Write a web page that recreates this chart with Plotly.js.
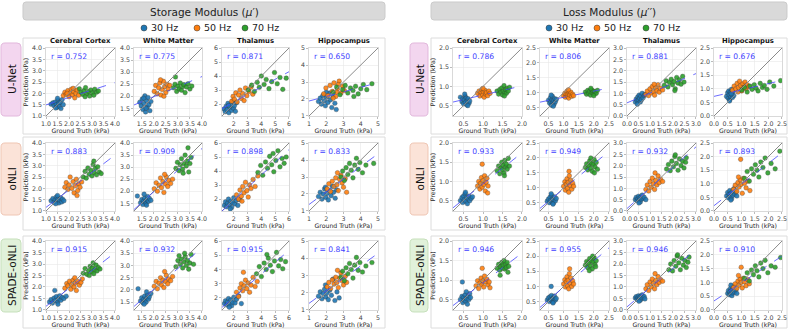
<!DOCTYPE html>
<html>
<head>
<meta charset="utf-8">
<script src="https://cdn.plot.ly/plotly-3.0.1.min.js"></script>
<style>
  html, body { margin: 0; padding: 0; background: #fff; }
  #chart { width: 793px; height: 330px; }
</style>
</head>
<body>
<div id="chart"></div>
<script>
// categories and labels
const regions = ["Cerebral Cortex", "White Matter", "Thalamus", "Hippocampus"];
const models = ["U-Net", "oNLI", "SPADE-oNLI"];
const freqs = ["30 Hz", "50 Hz", "70 Hz"];
const freqColors = ["#1f77b4", "#ff7f0e", "#2ca02c"];

// correlation coefficients printed in each panel (rows = models, cols = regions)
const rStorage = [["0.752", "0.775", "0.871", "0.650"], ["0.883", "0.909", "0.898", "0.833"], ["0.915", "0.932", "0.915", "0.841"]];
const rLoss = [["0.786", "0.806", "0.881", "0.676"], ["0.933", "0.949", "0.932", "0.893"], ["0.946", "0.955", "0.946", "0.910"]];

// axis ranges / tick steps per region
const storageRanges = [[0.999, 4.001], [1.18, 4.001], [1.15, 6.001], [0.999, 5.001]];
const storageDtick = [0.5, 0.5, 1, 1];
const lossRanges = [[0.23, 2.001], [0.22, 2.501], [-0.001, 3.001], [-0.001, 2.501]];
const lossDtick = [0.5, 0.5, 0.5, 0.5];

// ---- Storage modulus, U-Net : [ground truth, prediction] in kPa
const SU_CC_30 = [[1.22,1.52],[1.30,1.58],[1.35,1.45],[1.40,1.62],[1.45,1.50],[1.48,1.38],[1.52,1.68],[1.55,1.55],[1.58,1.42],[1.62,1.60],[1.65,1.33],[1.70,1.72],[1.75,1.50],[1.50,1.78],[1.42,1.35]];
const SU_CC_50 = [[1.75,1.90],[1.82,2.05],[1.88,1.95],[1.95,2.12],[2.00,1.85],[2.05,2.02],[2.10,2.18],[2.15,1.93],[2.20,2.08],[2.25,1.80],[2.30,2.00],[2.35,2.15],[2.42,1.92],[1.92,2.00],[2.18,2.22]];
const SU_CC_70 = [[2.45,2.20],[2.52,2.05],[2.60,1.95],[2.65,2.12],[2.72,2.25],[2.78,1.98],[2.85,2.08],[2.90,1.88],[2.95,2.15],[3.02,2.02],[3.08,1.92],[3.12,2.18],[3.20,2.05],[3.28,2.10],[2.70,1.85]];
const SU_WM_30 = [[1.42,1.75],[1.48,1.60],[1.52,1.88],[1.55,1.45],[1.60,1.70],[1.63,2.02],[1.66,1.35],[1.70,1.82],[1.73,1.55],[1.76,1.95],[1.80,1.65],[1.84,1.40],[1.88,1.78],[1.58,1.92],[1.68,1.50]];
const SU_WM_50 = [[2.02,2.20],[2.08,2.45],[2.14,2.10],[2.20,2.35],[2.25,2.55],[2.30,2.05],[2.35,2.28],[2.40,2.62],[2.45,2.40],[2.50,2.15],[2.55,2.50],[2.60,2.30],[2.66,2.45],[2.28,2.68],[2.42,2.00]];
const SU_WM_70 = [[2.82,2.35],[2.88,2.50],[2.95,2.20],[3.00,2.42],[3.05,2.30],[3.10,2.55],[3.15,2.25],[3.20,2.40],[3.25,2.48],[3.30,2.15],[3.36,2.38],[3.42,2.52],[3.50,2.30],[3.58,2.42],[2.90,2.80]];
const SU_TH_30 = [[1.30,1.65],[1.38,1.45],[1.45,1.85],[1.52,1.60],[1.58,2.05],[1.65,1.38],[1.72,1.75],[1.78,1.95],[1.85,1.55],[1.92,2.20],[1.98,1.70],[2.05,1.88],[2.12,1.48],[2.20,2.10],[1.62,1.90]];
const SU_TH_50 = [[1.85,2.20],[1.95,2.55],[2.05,2.35],[2.15,2.80],[2.25,2.15],[2.35,2.65],[2.45,3.00],[2.55,2.40],[2.65,2.75],[2.75,2.25],[2.85,3.15],[2.95,2.60],[3.10,2.90],[3.25,3.20],[3.38,2.70]];
const SU_TH_70 = [[3.05,3.00],[3.30,3.35],[3.50,2.90],[3.70,3.55],[3.85,3.20],[4.00,4.00],[4.20,3.40],[4.35,3.75],[4.55,3.10],[4.75,3.60],[4.95,4.25],[5.15,3.45],[5.35,3.90],[5.55,3.05],[5.80,3.85]];
const SU_HC_30 = [[1.55,1.85],[1.65,2.05],[1.72,1.70],[1.80,2.20],[1.88,1.90],[1.95,1.60],[2.02,2.10],[2.10,1.80],[2.18,2.35],[2.25,1.95],[2.32,1.50],[2.40,2.15],[2.50,1.75],[2.58,1.38],[2.00,2.40]];
const SU_HC_50 = [[1.85,2.30],[1.98,2.65],[2.10,2.20],[2.22,2.80],[2.35,2.45],[2.45,2.95],[2.55,2.15],[2.65,2.60],[2.75,3.05],[2.85,2.35],[2.95,2.75],[3.05,2.50],[2.40,2.05],[2.70,2.85],[2.60,2.40]];
const SU_HC_70 = [[2.40,2.40],[2.60,2.70],[2.80,2.25],[2.95,2.55],[3.10,2.80],[3.25,2.35],[3.40,2.65],[3.55,2.50],[3.70,2.75],[3.85,2.30],[4.00,2.60],[4.15,2.85],[4.35,2.55],[4.65,2.90],[3.60,2.15]];

// ---- Storage modulus, oNLI
const SO_CC_30 = [[1.22,1.45],[1.30,1.55],[1.35,1.38],[1.40,1.50],[1.45,1.62],[1.48,1.42],[1.52,1.52],[1.56,1.35],[1.60,1.48],[1.64,1.58],[1.68,1.40],[1.72,1.52],[1.78,1.45],[1.50,1.68],[1.42,1.32]];
const SO_CC_50 = [[1.82,2.05],[1.88,2.25],[1.95,1.95],[2.00,2.15],[2.05,2.50],[2.12,2.00],[2.18,2.30],[2.22,1.80],[2.28,2.12],[2.32,2.40],[2.38,1.90],[2.42,2.20],[2.48,2.05],[2.55,2.28],[2.35,1.68]];
const SO_CC_70 = [[2.62,2.50],[2.70,2.75],[2.75,2.45],[2.82,2.90],[2.88,2.62],[2.95,2.80],[3.00,2.55],[3.05,3.05],[3.10,2.70],[3.15,2.88],[3.20,2.60],[3.25,2.95],[3.32,2.72],[3.40,2.65],[3.08,3.20]];
const SO_WM_30 = [[1.32,1.80],[1.45,1.52],[1.50,1.65],[1.55,1.45],[1.58,1.60],[1.62,1.72],[1.65,1.55],[1.68,1.48],[1.72,1.65],[1.75,1.78],[1.78,1.58],[1.82,1.70],[1.88,1.62],[1.60,1.88],[1.70,1.42]];
const SO_WM_50 = [[2.02,2.10],[2.10,2.35],[2.15,2.00],[2.22,2.25],[2.28,2.55],[2.32,2.15],[2.38,2.40],[2.42,1.95],[2.48,2.30],[2.52,2.60],[2.58,2.20],[2.62,2.45],[2.70,2.32],[2.78,2.50],[2.45,2.70]];
const SO_WM_70 = [[2.92,2.95],[2.98,3.20],[3.05,2.85],[3.10,3.10],[3.15,3.35],[3.20,2.92],[3.25,3.15],[3.30,3.50],[3.35,3.05],[3.40,3.25],[3.45,2.80],[3.50,3.15],[3.55,3.40],[3.42,3.80],[3.22,2.75]];
const SO_TH_30 = [[1.32,1.55],[1.40,1.80],[1.48,1.45],[1.55,1.70],[1.62,2.00],[1.70,1.60],[1.78,1.85],[1.85,1.40],[1.92,1.75],[2.00,2.10],[2.08,1.65],[2.18,1.90],[2.30,1.55],[2.45,1.95],[1.75,1.30]];
const SO_TH_50 = [[2.20,2.30],[2.35,2.00],[2.45,2.65],[2.55,2.20],[2.65,2.90],[2.75,2.45],[2.85,3.20],[2.95,2.60],[3.05,2.15],[3.15,3.00],[3.25,2.75],[3.40,3.40],[3.55,2.90],[3.75,3.65],[2.60,1.85]];
const SO_TH_70 = [[3.75,3.90],[3.95,4.40],[4.10,3.70],[4.30,4.65],[4.45,4.20],[4.60,5.05],[4.75,4.45],[4.90,3.95],[5.05,4.75],[5.20,5.45],[5.35,4.30],[5.50,4.90],[5.65,4.55],[5.80,5.00],[4.85,5.25]];
const SO_HC_30 = [[1.55,1.85],[1.65,2.10],[1.75,1.70],[1.82,2.00],[1.90,2.30],[1.98,1.80],[2.05,2.05],[2.12,1.65],[2.20,2.20],[2.28,1.90],[2.35,2.45],[2.42,2.10],[2.52,1.75],[2.60,2.25],[1.95,2.40]];
const SO_HC_50 = [[2.05,2.30],[2.15,2.60],[2.25,2.15],[2.35,2.75],[2.45,2.45],[2.55,2.95],[2.62,2.55],[2.70,2.20],[2.78,2.85],[2.85,3.10],[2.92,2.65],[3.00,2.40],[3.10,2.90],[3.18,2.10],[2.65,3.25]];
const SO_HC_70 = [[2.85,3.00],[2.95,3.35],[3.05,2.80],[3.15,3.55],[3.25,3.15],[3.35,3.80],[3.45,3.40],[3.55,2.95],[3.65,3.70],[3.75,4.10],[3.85,3.45],[3.95,3.85],[4.10,3.25],[4.30,3.70],[4.75,3.80]];

// ---- Storage modulus, SPADE-oNLI
const SP_CC_30 = [[1.15,1.35],[1.22,1.45],[1.28,1.30],[1.35,1.52],[1.40,1.40],[1.45,1.58],[1.50,1.35],[1.55,1.48],[1.60,1.62],[1.65,1.42],[1.70,1.55],[1.78,1.50],[1.88,1.60],[1.38,1.85],[1.52,1.25]];
const SP_CC_50 = [[1.82,1.95],[1.90,2.15],[1.95,2.05],[2.02,2.25],[2.08,1.90],[2.12,2.10],[2.18,2.30],[2.22,2.00],[2.28,2.18],[2.32,1.85],[2.38,2.25],[2.45,2.08],[2.52,2.20],[2.58,2.35],[2.25,2.40]];
const SP_CC_70 = [[2.62,2.60],[2.70,2.80],[2.78,2.55],[2.85,2.72],[2.92,2.90],[2.98,2.65],[3.02,2.82],[3.08,2.58],[3.12,2.75],[3.18,2.95],[3.22,2.70],[3.28,2.85],[3.35,2.78],[3.05,3.05],[2.88,2.50]];
const SP_WM_30 = [[1.35,2.05],[1.45,1.55],[1.50,1.68],[1.55,1.48],[1.58,1.62],[1.62,1.75],[1.65,1.58],[1.68,1.50],[1.72,1.68],[1.75,1.80],[1.78,1.62],[1.82,1.72],[1.88,1.85],[1.60,1.42],[1.70,1.92]];
const SP_WM_50 = [[2.02,2.15],[2.10,2.35],[2.15,2.05],[2.22,2.28],[2.28,2.50],[2.32,2.20],[2.38,2.40],[2.42,2.10],[2.48,2.35],[2.52,2.60],[2.58,2.25],[2.62,2.45],[2.70,2.38],[2.78,2.55],[2.45,2.75]];
const SP_WM_70 = [[2.92,2.95],[3.00,3.20],[3.05,3.40],[3.10,3.05],[3.15,3.25],[3.20,2.90],[3.25,3.15],[3.30,3.35],[3.35,3.00],[3.40,3.20],[3.45,2.85],[3.50,3.10],[3.55,3.45],[3.65,3.05],[3.28,3.50]];
const SP_TH_30 = [[1.32,1.60],[1.40,1.80],[1.48,1.50],[1.55,1.72],[1.62,1.95],[1.70,1.55],[1.78,1.85],[1.85,1.45],[1.92,1.70],[2.00,2.05],[2.10,1.65],[2.20,1.90],[2.35,2.15],[2.55,1.60],[1.68,1.35]];
const SP_TH_50 = [[2.20,2.40],[2.35,2.10],[2.45,2.70],[2.55,3.00],[2.65,2.50],[2.75,2.85],[2.85,3.25],[2.95,2.65],[3.05,3.05],[3.15,2.40],[3.25,2.90],[3.40,3.45],[3.55,2.80],[3.70,3.15],[2.70,3.80]];
const SP_TH_70 = [[3.65,3.70],[3.85,4.20],[4.00,3.50],[4.20,4.45],[4.35,4.00],[4.50,4.80],[4.65,4.30],[4.80,3.85],[4.95,4.60],[5.10,5.20],[5.25,4.25],[5.40,4.70],[5.55,4.05],[5.75,4.55],[4.40,5.05]];
const SP_HC_30 = [[1.55,1.80],[1.65,2.05],[1.75,1.65],[1.82,1.95],[1.90,2.20],[1.98,1.75],[2.05,2.00],[2.12,1.60],[2.20,2.15],[2.30,1.85],[2.40,2.80],[2.50,1.55],[2.62,2.05],[2.75,1.70],[1.95,2.45]];
const SP_HC_50 = [[2.05,2.35],[2.15,2.60],[2.25,2.25],[2.35,2.75],[2.45,2.50],[2.55,2.90],[2.62,2.60],[2.70,2.30],[2.78,2.85],[2.85,3.15],[2.92,2.70],[3.00,2.45],[3.10,2.95],[3.18,2.60],[2.65,3.30]];
const SP_HC_70 = [[2.85,2.90],[2.95,3.25],[3.05,2.70],[3.15,3.45],[3.25,3.10],[3.35,3.70],[3.45,3.35],[3.55,2.85],[3.65,3.60],[3.75,4.05],[3.85,3.30],[3.95,3.75],[4.10,3.20],[4.30,3.55],[4.65,3.75]];

// ---- Loss modulus, U-Net
const LU_CC_30 = [[0.42,0.72],[0.46,0.60],[0.48,0.68],[0.50,0.55],[0.52,0.65],[0.54,0.75],[0.55,0.58],[0.57,0.70],[0.58,0.52],[0.60,0.63],[0.62,0.68],[0.64,0.56],[0.66,0.62],[0.53,0.80],[0.61,0.50]];
const LU_CC_50 = [[0.86,0.82],[0.90,0.88],[0.92,0.75],[0.95,0.85],[0.97,0.92],[0.99,0.78],[1.01,0.86],[1.03,0.72],[1.05,0.90],[1.07,0.80],[1.09,0.84],[1.12,0.76],[1.15,0.88],[1.18,0.82],[1.00,0.95]];
const LU_CC_70 = [[1.36,0.88],[1.40,0.80],[1.43,0.92],[1.46,0.85],[1.48,0.96],[1.50,0.78],[1.52,0.88],[1.54,1.02],[1.56,0.84],[1.58,0.92],[1.60,0.82],[1.62,0.95],[1.65,0.88],[1.68,0.98],[1.55,0.75]];
const LU_WM_30 = [[0.50,0.75],[0.54,0.65],[0.56,0.82],[0.58,0.70],[0.60,0.58],[0.62,0.76],[0.63,0.88],[0.65,0.68],[0.67,0.74],[0.69,0.62],[0.71,0.80],[0.73,0.70],[0.76,0.78],[0.59,0.92],[0.66,0.55]];
const LU_WM_50 = [[1.00,0.90],[1.04,0.98],[1.06,0.85],[1.09,0.95],[1.11,1.05],[1.13,0.88],[1.15,0.96],[1.17,0.82],[1.19,1.00],[1.21,0.92],[1.24,1.02],[1.27,0.88],[1.30,0.95],[1.33,0.90],[1.16,1.10]];
const LU_WM_70 = [[1.72,1.02],[1.76,0.95],[1.80,1.08],[1.83,0.98],[1.86,1.05],[1.89,0.92],[1.92,1.10],[1.95,1.00],[1.98,1.06],[2.01,0.96],[2.04,1.04],[2.08,0.98],[2.12,1.08],[1.90,1.15],[2.00,0.90]];
const LU_TH_30 = [[0.36,0.62],[0.40,0.75],[0.44,0.68],[0.47,0.85],[0.50,0.70],[0.53,0.92],[0.55,0.78],[0.58,0.62],[0.60,0.88],[0.63,0.72],[0.66,1.00],[0.70,0.80],[0.75,0.90],[0.45,0.52],[0.78,0.95]];
const LU_TH_50 = [[0.82,0.95],[0.88,1.10],[0.94,0.90],[1.00,1.20],[1.05,1.02],[1.10,1.30],[1.15,1.08],[1.20,0.92],[1.25,1.25],[1.30,1.12],[1.35,1.38],[1.40,1.05],[1.46,1.22],[1.55,1.15],[1.18,1.40]];
const LU_TH_70 = [[1.62,1.35],[1.70,1.55],[1.78,1.28],[1.85,1.48],[1.92,1.62],[1.98,1.38],[2.05,1.52],[2.10,1.20],[2.16,1.70],[2.22,1.45],[2.28,1.60],[2.35,1.40],[2.42,1.75],[2.48,1.50],[2.08,1.12]];
const LU_HC_30 = [[0.46,0.72],[0.50,0.85],[0.52,0.65],[0.54,0.92],[0.56,0.78],[0.58,0.60],[0.60,0.88],[0.62,0.70],[0.64,0.98],[0.66,0.80],[0.68,0.68],[0.70,0.90],[0.73,0.75],[0.57,0.55],[0.63,0.82]];
const LU_HC_50 = [[0.68,0.95],[0.74,1.10],[0.80,1.00],[0.85,1.20],[0.90,1.05],[0.94,1.28],[0.98,1.12],[1.02,0.92],[1.06,1.18],[1.10,1.05],[1.14,1.25],[1.18,1.00],[1.22,1.15],[1.28,1.08],[0.88,0.88]];
const LU_HC_70 = [[1.02,0.95],[1.12,1.05],[1.22,0.88],[1.32,1.10],[1.40,0.98],[1.48,1.15],[1.55,1.02],[1.62,0.92],[1.70,1.20],[1.78,1.05],[1.85,1.12],[1.95,0.98],[2.05,1.25],[2.20,1.10],[2.45,1.30]];

// ---- Loss modulus, oNLI
const LO_CC_30 = [[0.42,0.50],[0.46,0.58],[0.48,0.45],[0.50,0.62],[0.52,0.52],[0.54,0.68],[0.56,0.48],[0.58,0.58],[0.60,0.42],[0.62,0.55],[0.64,0.62],[0.66,0.50],[0.70,0.56],[0.55,0.72],[0.73,0.60]];
const LO_CC_50 = [[0.86,0.88],[0.89,1.00],[0.92,0.80],[0.94,0.95],[0.96,1.10],[0.98,0.85],[1.00,1.02],[1.02,0.92],[1.04,1.15],[1.06,0.75],[1.08,0.98],[1.10,1.08],[1.13,0.88],[0.98,1.45],[1.12,0.70]];
const LO_CC_70 = [[1.36,1.28],[1.40,1.40],[1.43,1.20],[1.46,1.35],[1.48,1.50],[1.50,1.30],[1.52,1.42],[1.54,1.22],[1.56,1.55],[1.58,1.38],[1.60,1.45],[1.62,1.32],[1.65,1.60],[1.68,1.40],[1.55,1.15]];
const LO_WM_30 = [[0.46,0.55],[0.50,0.62],[0.53,0.50],[0.55,0.68],[0.58,0.58],[0.60,0.75],[0.62,0.52],[0.64,0.62],[0.66,0.48],[0.68,0.60],[0.70,0.70],[0.73,0.56],[0.76,0.64],[0.59,0.80],[0.65,0.45]];
const LO_WM_50 = [[1.00,1.05],[1.04,1.20],[1.06,0.92],[1.09,1.12],[1.11,1.30],[1.13,0.98],[1.15,1.18],[1.17,0.85],[1.19,1.40],[1.21,1.08],[1.24,1.25],[1.27,0.95],[1.30,1.15],[1.18,1.55],[1.33,1.05]];
const LO_WM_70 = [[1.72,1.68],[1.76,1.80],[1.80,1.60],[1.83,1.75],[1.86,1.90],[1.89,1.65],[1.92,1.82],[1.95,1.55],[1.98,1.78],[2.01,1.95],[2.04,1.70],[2.08,1.85],[2.12,1.62],[1.90,2.00],[2.02,1.50]];
const LO_TH_30 = [[0.36,0.50],[0.40,0.60],[0.44,0.45],[0.47,0.55],[0.50,0.65],[0.53,0.48],[0.55,0.58],[0.58,0.40],[0.60,0.62],[0.63,0.52],[0.66,0.70],[0.70,0.55],[0.75,0.60],[0.82,0.50],[0.52,0.35]];
const LO_TH_50 = [[0.82,0.95],[0.88,1.15],[0.94,0.88],[1.00,1.30],[1.05,1.05],[1.10,1.45],[1.15,1.20],[1.20,0.95],[1.25,1.35],[1.30,1.15],[1.35,1.55],[1.40,1.25],[1.46,1.40],[1.55,1.30],[1.22,1.68]];
const LO_TH_70 = [[1.72,1.85],[1.80,2.05],[1.88,1.78],[1.95,2.20],[2.02,1.95],[2.08,2.40],[2.15,2.10],[2.22,1.80],[2.28,2.30],[2.35,2.00],[2.42,2.20],[2.48,1.90],[2.55,2.15],[2.10,2.48],[2.58,2.35]];
const LO_HC_30 = [[0.46,0.55],[0.50,0.68],[0.53,0.48],[0.56,0.62],[0.58,0.75],[0.60,0.52],[0.63,0.65],[0.65,0.45],[0.68,0.72],[0.70,0.58],[0.73,0.82],[0.76,0.62],[0.80,0.70],[0.84,0.55],[0.62,0.40]];
const LO_HC_50 = [[0.72,0.80],[0.78,0.95],[0.84,0.72],[0.88,1.05],[0.92,0.88],[0.96,1.15],[1.00,0.98],[1.04,0.65],[1.08,1.20],[1.12,1.02],[1.18,0.85],[1.24,1.10],[1.32,0.75],[0.98,1.90],[0.90,1.25]];
const LO_HC_70 = [[1.12,1.20],[1.22,1.45],[1.30,1.10],[1.38,1.55],[1.45,1.35],[1.52,1.70],[1.58,1.50],[1.65,1.25],[1.72,1.80],[1.80,1.60],[1.88,1.95],[1.98,1.40],[2.10,1.75],[2.25,1.55],[2.42,2.20]];

// ---- Loss modulus, SPADE-oNLI
const LP_CC_30 = [[0.42,0.50],[0.46,0.58],[0.48,0.42],[0.50,0.55],[0.52,0.48],[0.54,0.62],[0.56,0.45],[0.58,0.52],[0.60,0.38],[0.62,0.58],[0.64,0.50],[0.66,0.65],[0.68,0.55],[0.47,0.95],[0.57,0.70]];
const LP_CC_50 = [[0.82,0.85],[0.86,0.98],[0.89,0.78],[0.92,0.92],[0.95,1.05],[0.97,0.88],[1.00,0.98],[1.02,0.82],[1.04,1.10],[1.07,0.95],[1.10,1.02],[1.13,0.88],[1.16,0.95],[0.98,1.30],[1.18,0.80]];
const LP_CC_70 = [[1.36,1.30],[1.40,1.40],[1.43,1.25],[1.46,1.35],[1.48,1.45],[1.50,1.30],[1.52,1.38],[1.54,1.50],[1.56,1.28],[1.58,1.40],[1.60,1.32],[1.62,1.45],[1.66,1.35],[1.44,1.12],[1.64,1.20]];
const LP_WM_30 = [[0.46,0.55],[0.50,0.62],[0.53,0.50],[0.55,0.66],[0.58,0.56],[0.60,0.70],[0.62,0.52],[0.64,0.60],[0.66,0.48],[0.68,0.62],[0.70,0.68],[0.73,0.55],[0.76,0.60],[0.59,1.00],[0.65,0.45]];
const LP_WM_50 = [[1.00,1.08],[1.04,1.22],[1.06,0.98],[1.09,1.15],[1.11,1.32],[1.13,1.02],[1.15,1.20],[1.17,0.92],[1.19,1.42],[1.21,1.10],[1.24,1.28],[1.27,1.00],[1.30,1.18],[1.20,1.58],[1.33,1.08]];
const LP_WM_70 = [[1.72,1.70],[1.76,1.82],[1.80,1.62],[1.83,1.78],[1.86,1.92],[1.89,1.68],[1.92,1.85],[1.95,1.58],[1.98,1.80],[2.01,1.95],[2.04,1.72],[2.08,1.85],[1.85,1.52],[1.96,2.00],[2.06,1.65]];
const LP_TH_30 = [[0.36,0.52],[0.40,0.58],[0.44,0.46],[0.47,0.55],[0.50,0.62],[0.53,0.48],[0.55,0.56],[0.58,0.42],[0.60,0.60],[0.63,0.50],[0.66,0.66],[0.70,0.54],[0.75,0.58],[0.78,0.48],[0.52,0.38]];
const LP_TH_50 = [[0.82,0.92],[0.88,1.10],[0.94,0.85],[1.00,1.22],[1.05,1.00],[1.10,1.35],[1.15,1.15],[1.20,0.92],[1.25,1.28],[1.30,1.10],[1.35,1.45],[1.40,1.20],[1.46,1.32],[1.55,1.25],[1.22,1.58]];
const LP_TH_70 = [[1.82,1.75],[1.90,2.00],[1.98,1.70],[2.05,2.15],[2.12,1.90],[2.18,2.35],[2.25,2.05],[2.32,1.75],[2.38,2.25],[2.45,1.95],[2.52,2.15],[2.58,1.85],[2.65,2.08],[2.20,2.40],[2.70,2.30]];
const LP_HC_30 = [[0.50,0.60],[0.53,0.70],[0.56,0.55],[0.58,0.66],[0.60,0.78],[0.62,0.58],[0.64,0.70],[0.66,0.52],[0.68,0.75],[0.70,0.62],[0.73,0.85],[0.76,0.65],[0.80,0.72],[0.84,0.60],[0.62,0.90]];
const LP_HC_50 = [[0.72,0.82],[0.78,0.95],[0.84,0.78],[0.88,1.05],[0.92,0.90],[0.96,1.12],[1.00,1.00],[1.04,0.80],[1.08,1.15],[1.12,1.02],[1.18,0.88],[1.24,1.10],[1.30,0.95],[1.00,1.55],[0.90,1.25]];
const LP_HC_70 = [[1.12,1.15],[1.22,1.35],[1.30,1.05],[1.38,1.45],[1.45,1.28],[1.52,1.60],[1.58,1.42],[1.65,1.20],[1.72,1.70],[1.80,1.50],[1.88,1.80],[1.98,1.35],[2.10,1.60],[2.25,1.55],[2.45,1.90]];

const storageSets = [
    [[SU_CC_30, SU_CC_50, SU_CC_70], [SU_WM_30, SU_WM_50, SU_WM_70], [SU_TH_30, SU_TH_50, SU_TH_70], [SU_HC_30, SU_HC_50, SU_HC_70]],
    [[SO_CC_30, SO_CC_50, SO_CC_70], [SO_WM_30, SO_WM_50, SO_WM_70], [SO_TH_30, SO_TH_50, SO_TH_70], [SO_HC_30, SO_HC_50, SO_HC_70]],
    [[SP_CC_30, SP_CC_50, SP_CC_70], [SP_WM_30, SP_WM_50, SP_WM_70], [SP_TH_30, SP_TH_50, SP_TH_70], [SP_HC_30, SP_HC_50, SP_HC_70]],
];
const lossSets = [
    [[LU_CC_30, LU_CC_50, LU_CC_70], [LU_WM_30, LU_WM_50, LU_WM_70], [LU_TH_30, LU_TH_50, LU_TH_70], [LU_HC_30, LU_HC_50, LU_HC_70]],
    [[LO_CC_30, LO_CC_50, LO_CC_70], [LO_WM_30, LO_WM_50, LO_WM_70], [LO_TH_30, LO_TH_50, LO_TH_70], [LO_HC_30, LO_HC_50, LO_HC_70]],
    [[LP_CC_30, LP_CC_50, LP_CC_70], [LP_WM_30, LP_WM_50, LP_WM_70], [LP_TH_30, LP_TH_50, LP_TH_70], [LP_HC_30, LP_HC_50, LP_HC_70]],
];

// ---- page geometry (pixels)
const W = 793, H = 330;
const FONT = "DejaVu Sans";
const colsStorage = [[46, 115], [134, 202], [222, 289], [309, 378]];
const colsLoss = [[453, 522], [540, 609], [627, 696], [714, 782]];
const rowsPx = [[48, 116], [143, 211], [241, 310]];

const px = x => x / W;
const py = y => 1 - y / H;

function roundRect(x0, y0, x1, y1, r) {
    const p = (x, y) => px(x).toFixed(5) + "," + py(y).toFixed(5);
    return `M${p(x0 + r, y0)} L${p(x1 - r, y0)} Q${p(x1, y0)} ${p(x1, y0 + r)} L${p(x1, y1 - r)} Q${p(x1, y1)} ${p(x1 - r, y1)} L${p(x0 + r, y1)} Q${p(x0, y1)} ${p(x0, y1 - r)} L${p(x0, y0 + r)} Q${p(x0, y0)} ${p(x0 + r, y0)} Z`;
}

function fitLine(points) {
    const n = points.length;
    let sx = 0, sy = 0, sxx = 0, sxy = 0;
    points.forEach(([x, y]) => { sx += x; sy += y; sxx += x * x; sxy += x * y; });
    const slope = (n * sxy - sx * sy) / (n * sxx - sx * sx);
    return { slope, intercept: (sy - slope * sx) / n };
}

const data = [];
const layout = {
    width: W, height: H,
    margin: { l: 0, r: 0, t: 0, b: 0 },
    paper_bgcolor: "#ffffff",
    plot_bgcolor: "#ffffff",
    showlegend: false,
    font: { family: FONT, color: "#222" },
    shapes: [],
    annotations: [],
};

// background decorations: headers, row label boxes, row frames
const halves = [
    { title: "Storage Modulus (<i>μ</i>′)", x0: 23, x1: 385, labX: [1, 21], legendX: [144, 197, 245] },
    { title: "Loss Modulus (<i>μ</i>′′)", x0: 431, x1: 787, labX: [410, 428], legendX: [549, 597, 646] },
];
const frameY = [[38, 134], [137, 230], [236, 328]];
const labelY = [[43, 116], [143, 215], [239, 312]];
const labelFill = ["#f3d6ef", "#fbe3d8", "#e1f1da"];
const labelLine = ["#e2b8dc", "#efc6b4", "#c6e0bb"];

halves.forEach(h => {
    layout.shapes.push({ type: "path", xref: "paper", yref: "paper", path: roundRect(h.x0, 2, h.x1, 20, 3), fillcolor: "#d9d9d9", line: { color: "#cbcbcb", width: 1 }, layer: "below" });
    layout.annotations.push({ xref: "paper", yref: "paper", x: px((h.x0 + h.x1) / 2), y: py(11.5), text: h.title, showarrow: false, font: { size: 10.5, color: "#222" }, xanchor: "center", yanchor: "middle" });
    freqs.forEach((f, k) => {
        const cx = h.legendX[k];
        layout.shapes.push({ type: "circle", xref: "paper", yref: "paper", x0: px(cx - 3), x1: px(cx + 3), y0: py(31), y1: py(25), fillcolor: freqColors[k], line: { color: "#333", width: 0.5 } });
        layout.annotations.push({ xref: "paper", yref: "paper", x: px(cx + 5), y: py(28), text: f, showarrow: false, font: { size: 9.5, color: "#222" }, xanchor: "left", yanchor: "middle" });
    });
    frameY.forEach(([a, b]) => {
        layout.shapes.push({ type: "rect", xref: "paper", yref: "paper", x0: px(h.x0), x1: px(h.x1), y0: py(b), y1: py(a), line: { color: "#dcdcdc", width: 1 }, layer: "below" });
    });
    models.forEach((m, i) => {
        const [a, b] = labelY[i];
        layout.shapes.push({ type: "path", xref: "paper", yref: "paper", path: roundRect(h.labX[0], a, h.labX[1], b, 4), fillcolor: labelFill[i], line: { color: labelLine[i], width: 1 }, layer: "below" });
        layout.annotations.push({ xref: "paper", yref: "paper", x: px((h.labX[0] + h.labX[1]) / 2 + 0.5), y: py((a + b) / 2), text: m, textangle: -90, showarrow: false, font: { size: 10.5, color: "#111" }, xanchor: "center", yanchor: "middle" });
    });
});

// panels
let n = 0;
[{ sets: storageSets, cols: colsStorage, ranges: storageRanges, dticks: storageDtick, rs: rStorage },
 { sets: lossSets, cols: colsLoss, ranges: lossRanges, dticks: lossDtick, rs: rLoss }].forEach(half => {
    models.forEach((m, i) => {
        regions.forEach((reg, j) => {
            n += 1;
            const xa = n === 1 ? "x" : "x" + n;
            const ya = n === 1 ? "y" : "y" + n;
            const xKey = n === 1 ? "xaxis" : "xaxis" + n;
            const yKey = n === 1 ? "yaxis" : "yaxis" + n;
            const range = half.ranges[j];
            const dtick = half.dticks[j];
            const fmt = dtick < 1 ? ".1f" : "d";
            const [c0, c1] = half.cols[j];
            const [r0, r1] = rowsPx[i];
            const common = {
                range: range, dtick: dtick, tick0: 0, tickformat: fmt, tickangle: 0,
                tickfont: { size: 6.3, color: "#444" },
                showgrid: true, gridcolor: "#e8e8e8", gridwidth: 0.6, zeroline: false,
                showline: true, linecolor: "#d0d0d0", linewidth: 0.8, mirror: true,
                ticks: "outside", ticklen: 2, tickcolor: "#bbb", fixedrange: true,
            };
            layout[xKey] = Object.assign({}, common, {
                domain: [px(c0), px(c1)], anchor: ya,
                title: { text: "Ground Truth (kPa)", font: { size: 6.2, color: "#222" }, standoff: 1 },
            });
            layout[yKey] = Object.assign({}, common, {
                domain: [py(r1), py(r0)], anchor: xa,
                title: j === 0 ? { text: "Prediction (kPa)", font: { size: 6.2, color: "#222" }, standoff: 2 } : { text: "" },
            });

            const groups = half.sets[i][j];
            groups.forEach((pts, k) => {
                data.push({
                    type: "scatter", mode: "markers", xaxis: xa, yaxis: ya,
                    x: pts.map(p => p[0]), y: pts.map(p => p[1]),
                    name: freqs[k], cliponaxis: true,
                    marker: { size: 4.6, color: freqColors[k], opacity: 0.9, line: { color: "#333", width: 0.35 } },
                });
            });

            const all = groups.flat();
            const { slope, intercept } = fitLine(all);
            data.push({
                type: "scatter", mode: "lines", xaxis: xa, yaxis: ya,
                x: range, y: range, line: { color: "#8a8a8a", width: 1 }, hoverinfo: "skip",
            });
            data.push({
                type: "scatter", mode: "lines", xaxis: xa, yaxis: ya,
                x: range, y: range.map(v => slope * v + intercept),
                line: { color: "rgba(70,70,255,0.8)", width: 1, dash: "dash" }, hoverinfo: "skip",
            });

            layout.annotations.push({
                xref: xa + " domain", yref: ya + " domain", x: 0.05, y: 0.97,
                text: "r = " + half.rs[i][j], showarrow: false, xanchor: "left", yanchor: "top",
                font: { size: 7.6, color: "#3f3fff" },
            });
            if (i === 0) {
                layout.annotations.push({
                    xref: xa + " domain", yref: ya + " domain", x: 0.5, y: 1, yshift: 1,
                    text: "<b>" + reg + "</b>", showarrow: false, xanchor: "center", yanchor: "bottom",
                    font: { size: 6.8, color: "#111" },
                });
            }
        });
    });
});

Plotly.newPlot("chart", data, layout, { staticPlot: true, displayModeBar: false });
</script>
</body>
</html>
